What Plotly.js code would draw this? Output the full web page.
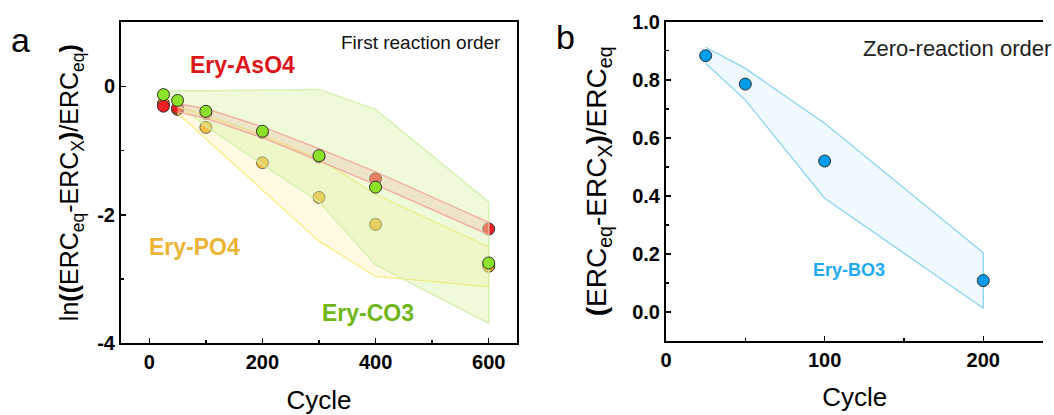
<!DOCTYPE html>
<html><head><meta charset="utf-8">
<script src="https://cdn.plot.ly/plotly-3.0.1.min.js"></script>
<style>html,body{margin:0;padding:0;overflow:hidden;background:#fff}</style>
</head><body><div id="chart" style="width:1054px;height:415px"></div>
<script>
// ---- Panel a data (first reaction order) ----
const cyclesA = [25, 50, 100, 200, 300, 400, 600];
const aso4 = [-0.31, -0.34, -0.42, -0.72, -1.10, -1.44, -2.22];
const po4  = [-0.27, -0.36, -0.64, -1.19, -1.73, -2.15, -2.80];
const co3  = [-0.13, -0.22, -0.39, -0.70, -1.08, -1.57, -2.75];
const aso4BandX = [50, 100, 200, 300, 400, 600];
const aso4Upper = [-0.27, -0.35, -0.63, -0.97, -1.33, -2.12];
const aso4Lower = [-0.40, -0.50, -0.80, -1.16, -1.53, -2.31];
const po4BandX = [50, 100, 200, 300, 400, 600];
const po4Upper = [-0.32, -0.45, -0.76, -1.13, -1.68, -2.50];
const po4Lower = [-0.42, -0.82, -1.62, -2.41, -2.96, -3.12];
const co3BandX = [25, 50, 100, 200, 300, 400, 600];
const co3Upper = [-0.08, -0.07, -0.07, -0.06, -0.05, -0.36, -1.80];
const co3Lower = [-0.16, -0.28, -0.62, -1.22, -1.80, -2.78, -3.69];
// ---- Panel b data (zero reaction order) ----
const cyclesB = [25, 50, 100, 200];
const bo3 = [0.883, 0.785, 0.52, 0.108];
const bo3Upper = [0.912, 0.839, 0.65, 0.204];
const bo3Lower = [0.857, 0.73, 0.392, 0.013];
// ---- Tick labels ----
const tickValsAx = [0, 200, 400, 600];
const tickTextAx = ['0', '200', '400', '600'];
const tickValsAy = [-4, -2, 0];
const tickTextAy = ['-4', '-2', '0'];
const tickValsBx = [0, 100, 200];
const tickTextBx = ['0', '100', '200'];
const tickValsBy = [0, 0.2, 0.4, 0.6, 0.8, 1.0];
const tickTextBy = ['0.0', '0.2', '0.4', '0.6', '0.8', '1.0'];

const W = 1054, H = 415;
const FONT = "Arial, 'Liberation Sans', sans-serif";
const px = v => v / W, py = v => 1 - v / H;
const bold = a => a.map(s => '<b>' + s + '</b>');

function band(xs, up, lo, xa, ya, fill, line) {
  return {x: xs.concat(xs.slice().reverse()), y: up.concat(lo.slice().reverse()),
    xaxis: xa, yaxis: ya, mode: 'lines', fill: 'toself', fillcolor: fill,
    line: {color: line, width: 1.3}, hoverinfo: 'skip', showlegend: false};
}
function pts(xs, ys, xa, ya, color) {
  return {x: xs, y: ys, xaxis: xa, yaxis: ya, mode: 'markers', showlegend: false,
    marker: {size: 12, color: color, line: {color: '#333', width: 1}}};
}

const traces = [
  pts(cyclesA, po4, 'x', 'y', 'rgb(240,168,30)'),
  pts(cyclesA, aso4, 'x', 'y', 'rgb(238,32,36)'),
  band(po4BandX, po4Upper, po4Lower, 'x', 'y', 'rgba(255,240,160,0.3)', 'rgba(250,235,120,0.9)'),
  band(co3BandX, co3Upper, co3Lower, 'x', 'y', 'rgba(205,242,150,0.35)', 'rgba(210,240,170,0.9)'),
  band(aso4BandX, aso4Upper, aso4Lower, 'x', 'y', 'rgba(240,180,160,0.3)', 'rgba(242,165,155,0.95)'),
  pts(cyclesA, co3, 'x', 'y', 'rgb(140,226,40)'),
  band(cyclesB, bo3Upper, bo3Lower, 'x2', 'y2', 'rgba(220,242,253,0.45)', 'rgb(140,212,242)'),
  pts(cyclesB, bo3, 'x2', 'y2', 'rgb(0,155,235)')
];

const tickF = {family: FONT, size: 20, color: '#000'};
const axBase = {showline: true, linecolor: '#000', linewidth: 2, ticks: 'inside',
  ticklen: 5, tickwidth: 1.5, tickcolor: '#000', showgrid: false, zeroline: false,
  tickfont: tickF, automargin: false, tickmode: 'array'};
const titleF = s => ({family: FONT, size: s, color: '#000'});
const bEnd = 0.99;
const bMax = (bEnd * W - 666) / 1.5865;

const layout = {
  width: W, height: H, margin: {l: 0, r: 0, t: 0, b: 0},
  paper_bgcolor: '#fff', plot_bgcolor: 'rgba(0,0,0,0)', showlegend: false,
  xaxis: Object.assign({}, axBase, {mirror: true, domain: [px(121), px(517)], range: [-50, 650],
    tickvals: tickValsAx, ticktext: bold(tickTextAx),
    minor: {dtick: 100, tick0: 0, ticks: 'inside', ticklen: 3, tickcolor: '#000'},
    title: {text: 'Cycle', font: titleF(26), standoff: 21}, anchor: 'y'}),
  yaxis: Object.assign({}, axBase, {mirror: true, domain: [py(343.3), py(22)], range: [-4, 1],
    tickvals: tickValsAy, ticktext: bold(tickTextAy),
    minor: {dtick: 1, tick0: 0, ticks: 'inside', ticklen: 3, tickcolor: '#000'},
    title: {text: 'ln<b>((</b>ERC<sub>eq</sub>-ERC<sub>X</sub><b>)</b>/ERC<sub>eq</sub><b>)</b>',
      font: titleF(25), standoff: 11}, anchor: 'x'}),
  xaxis2: Object.assign({}, axBase, {mirror: true, domain: [px(666), bEnd], range: [0, bMax],
    tickvals: tickValsBx, ticktext: bold(tickTextBx),
    minor: {dtick: 50, tick0: 0, ticks: 'inside', ticklen: 3, tickcolor: '#000'},
    title: {text: 'Cycle', font: titleF(26), standoff: 18}, anchor: 'y2'}),
  yaxis2: Object.assign({}, axBase, {mirror: false, domain: [py(341), py(21.7)], range: [-0.1, 1.0],
    tickvals: tickValsBy, ticktext: bold(tickTextBy),
    minor: {dtick: 0.1, tick0: 0, ticks: 'inside', ticklen: 3, tickcolor: '#000'},
    title: {text: '<b>(</b>ERC<sub>eq</sub>-ERC<sub>X</sub><b>)</b>/ERC<sub>eq</sub>',
      font: titleF(28), standoff: 17}, anchor: 'x2'}),
  annotations: [
    {text: 'a', x: px(20), y: py(40)},
    {text: 'b', x: px(565), y: py(37)},
    {text: 'First reaction order', x: px(503), y: py(43), xanchor: 'right', font: {family: FONT, size: 19, color: '#111'}},
    {text: 'Zero-reaction order', x: px(1053), y: py(48), xanchor: 'right', font: {family: FONT, size: 22, color: '#222'}},
    {text: '<b>Ery-AsO4</b>', x: px(242), y: py(65), font: {family: FONT, size: 23, color: 'rgb(222,20,24)'}},
    {text: '<b>Ery-PO4</b>', x: px(194), y: py(247), font: {family: FONT, size: 23, color: 'rgb(236,180,52)'}},
    {text: '<b>Ery-CO3</b>', x: px(368), y: py(313), font: {family: FONT, size: 23, color: 'rgb(112,182,24)'}},
    {text: '<b>Ery-BO3</b>', x: px(849), y: py(270), font: {family: FONT, size: 18, color: 'rgb(30,170,240)'}}
  ].map(a => Object.assign({xref: 'paper', yref: 'paper', showarrow: false, xanchor: 'center', yanchor: 'middle',
      font: {family: FONT, size: 34, color: '#000'}}, a))
};

Plotly.newPlot('chart', traces, layout, {staticPlot: true, displayModeBar: false});
</script>
</body></html>
